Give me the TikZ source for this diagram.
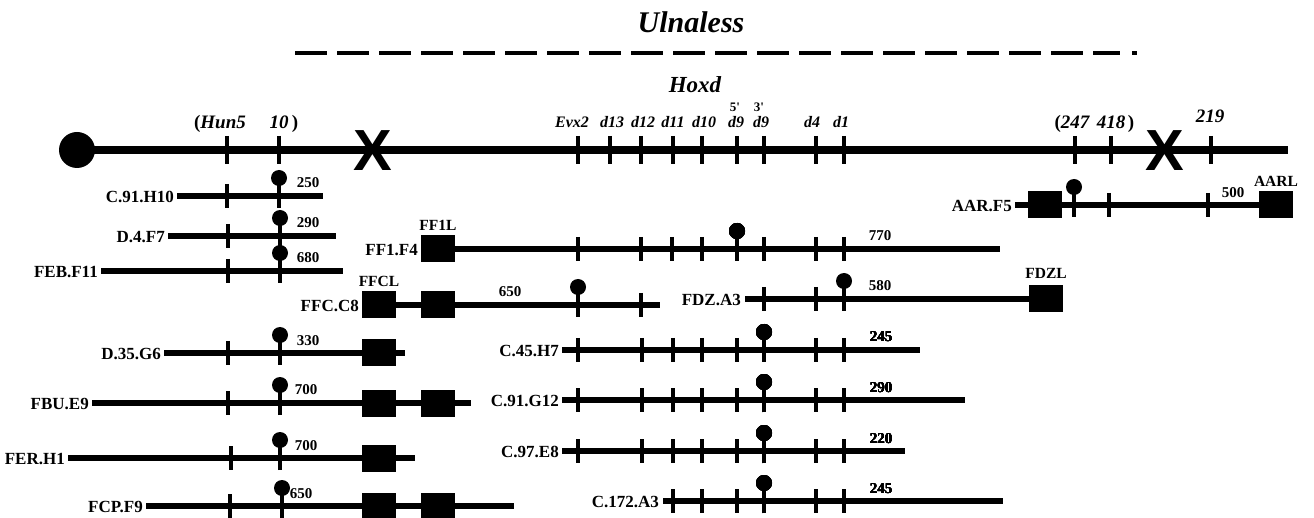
\documentclass[tikz,border=0pt]{standalone}
\usepackage{fontspec}
\setmainfont{Liberation Serif}
\newfontfamily\xfont{Liberation Sans}
\newcommand\clonetick[2]{\draw[tkl] (#1,#2-12) -- (#1,#2+12);}
\newcommand\lolli[2]{\draw[tkl] (#1,#2+12) -- (#1,#2-12); \fill (#1,#2-18) circle (8pt);}
\begin{document}
\begin{tikzpicture}[x=1pt,y=-1pt,
 mainl/.style={line width=7.5pt},
 cl/.style={line width=5.5pt},
 tkl/.style={line width=3.5pt},
 blk/.style={fill=black, minimum width=34pt, minimum height=27pt, inner sep=0pt},
 lbl/.style={font=\bfseries\fontsize{17}{17}\selectfont, anchor=east, inner sep=1pt},
 num/.style={font=\bfseries\fontsize{15}{15}\selectfont, anchor=base, inner sep=0pt},
 gene/.style={font=\bfseries\itshape\fontsize{16}{16}\selectfont, anchor=base, inner sep=0pt},
 top/.style={font=\bfseries\itshape\fontsize{19}{19}\selectfont, anchor=base, inner sep=0pt},
 boxlbl/.style={font=\bfseries\fontsize{15.5}{15.5}\selectfont, anchor=base, inner sep=0pt},
 xmark/.style={font=\xfont\bfseries\fontsize{58}{58}\selectfont, inner sep=0pt}]
\useasboundingbox (0,0) rectangle (1314,518);

% title
\node[font=\bfseries\itshape\fontsize{30}{30}\selectfont, anchor=base] (title) at (691,33) {Ulnaless};
\draw[line width=4pt, dash pattern=on 32pt off 10pt] (295,53) -- (1120,53);
\fill (1132,51) rectangle (1137,55);
\node[font=\bfseries\itshape\fontsize{23}{23}\selectfont, anchor=base] (hoxd) at (695,93) {Hoxd};

% main line
\draw[mainl] (77,150) -- (1288,150);
\fill (77,150) circle (18pt);
\foreach \x in {227,279,578,610,641,673,702,737,764,816,844,1075,1111,1211}
  \draw[tkl] (\x,136) -- (\x,164);
\node[xmark] (x1) at (373,151) {X};
\node[xmark] (x2) at (1165,151) {X};

% main labels
\node[top] (hun5) at (220,129) {{\upshape(}Hun5};
\node[top] (h10) at (279,129) {10};
\node[top] (hp) at (295,129) {\upshape)};
\node[top] (g247) at (1072,129) {{\upshape(}247};
\node[top] (g418) at (1111,129) {418};
\node[top] (gp) at (1131,129) {\upshape)};
\node[top] (g219) at (1210,123) {219};
\node[gene] (evx2) at (572,128) {Evx2};
\node[gene] (d13) at (612,128) {d13};
\node[gene] (d12) at (643,128) {d12};
\node[gene] (d11) at (673,128) {d11};
\node[gene] (d10) at (704,128) {d10};
\node[gene] (d9a) at (736,128) {d9};
\node[gene] (d9b) at (761,128) {d9};
\node[gene] (d4) at (812,128) {d4};
\node[gene] (d1) at (841,128) {d1};
\node[font=\bfseries\fontsize{13}{13}\selectfont, anchor=base, inner sep=0pt] (p5) at (735,112) {5\textquotesingle};
\node[font=\bfseries\fontsize{13}{13}\selectfont, anchor=base, inner sep=0pt] (p3) at (759,112) {3\textquotesingle};

% ---- left column
% C.91.H10
\node[lbl] (c91h10) at (175,197) {C.91.H10};
\draw[cl] (177,196) -- (323,196);
\clonetick{227}{196} \lolli{279}{196}
\node[num] (n250) at (308,188) {250};
% D.4.F7
\node[lbl] (d4f7) at (166,237) {D.4.F7};
\draw[cl] (168,236) -- (336,236);
\clonetick{228}{236} \lolli{280}{236}
\node[num] (n290) at (308,228) {290};
% FEB.F11
\node[lbl] (febf11) at (99,272) {FEB.F11};
\draw[cl] (101,271) -- (343,271);
\clonetick{228}{271} \lolli{280}{271}
\node[num] (n680) at (308,263) {680};
% FFC.C8
\node[lbl] (ffcc8) at (360,306) {FFC.C8};
\draw[cl] (362,305) -- (660,305);
\lolli{578}{305} \clonetick{641}{305}
\node[blk] (ffcb1) at (379,305) {};
\node[blk] (ffcb2) at (438,305) {};
\node[boxlbl] (ffcl) at ([yshift=5pt]ffcb1.north) {FFCL};
\node[num] (n650a) at (510,297) {650};
% D.35.G6
\node[lbl] (d35g6) at (162,354) {D.35.G6};
\draw[cl] (164,353) -- (405,353);
\clonetick{228}{353} \lolli{280}{353}
\node[blk] (d35b) at (379,353) {};
\node[num] (n330) at (308,345) {330};
% FBU.E9
\node[lbl] (fbue9) at (90,404) {FBU.E9};
\draw[cl] (92,403) -- (471,403);
\clonetick{228}{403} \lolli{280}{403}
\node[blk] (fbub1) at (379,403) {};
\node[blk] (fbub2) at (438,403) {};
\node[num] (n700a) at (306,395) {700};
% FER.H1
\node[lbl] (ferh1) at (66,459) {FER.H1};
\draw[cl] (68,458) -- (415,458);
\clonetick{231}{458} \lolli{280}{458}
\node[blk] (ferb) at (379,458) {};
\node[num] (n700b) at (306,450) {700};
% FCP.F9
\node[lbl] (fcpf9) at (144,507) {FCP.F9};
\draw[cl] (146,506) -- (514,506);
\clonetick{230}{506} \lolli{282}{506}
\node[blk] (fcpb1) at (379,506) {};
\node[blk] (fcpb2) at (438,506) {};
\node[num] (n650b) at (301,498) {650};

% ---- middle
% FF1.F4
\node[lbl] (ff1f4) at (419,250) {FF1.F4};
\draw[cl] (438,249) -- (1000,249);
\foreach \x in {578,641,672,702,764,816,844} \clonetick{\x}{249}
\lolli{737}{249}
\node[blk] (ff1b) at (438,249) {};
\node[boxlbl] (ff1l) at ([yshift=5pt]ff1b.north) {FF1L};
\node[num] (n770) at (880,241) {770};
% FDZ.A3
\node[lbl] (fdza3) at (742,300) {FDZ.A3};
\draw[cl] (745,299) -- (1046,299);
\clonetick{764}{299} \clonetick{816}{299} \lolli{844}{299}
\node[blk] (fdzb) at (1046,299) {};
\node[boxlbl] (fdzl) at ([yshift=7pt]fdzb.north) {FDZL};
\node[num] (n580) at (880,291) {580};
% C.45.H7
\node[lbl] (c45h7) at (560,351) {C.45.H7};
\draw[cl] (562,350) -- (920,350);
\foreach \x in {578,642,673,702,737,816,844} \clonetick{\x}{350}
\lolli{764}{350}
\node[num] (n245a) at (881,342) {245};
% C.91.G12
\node[lbl] (c91g12) at (560,401) {C.91.G12};
\draw[cl] (562,400) -- (965,400);
\foreach \x in {578,642,673,702,737,816,844} \clonetick{\x}{400}
\lolli{764}{400}
\node[num] (n290b) at (881,392) {290};
% C.97.E8
\node[lbl] (c97e8) at (560,452) {C.97.E8};
\draw[cl] (562,451) -- (905,451);
\foreach \x in {578,642,673,702,737,816,844} \clonetick{\x}{451}
\lolli{764}{451}
\node[num] (n220) at (881,443) {220};
% C.172.A3
\node[lbl] (c172a3) at (660,502) {C.172.A3};
\draw[cl] (663,501) -- (1003,501);
\foreach \x in {673,702,737,816,844} \clonetick{\x}{501}
\lolli{764}{501}
\node[num] (n245b) at (881,493) {245};

% ---- right
% AAR.F5
\node[lbl] (aarf5) at (1013,206) {AAR.F5};
\draw[cl] (1015,205) -- (1276,205);
\lolli{1074}{205} \clonetick{1109}{205} \clonetick{1208}{205}
\node[blk] (aarb1) at (1045,205) {};
\node[blk] (aarb2) at (1276,205) {};
\node[boxlbl] (aarl) at ([yshift=5pt]aarb2.north) {AARL};
\node[num] (n500) at (1233,198) {500};
\end{tikzpicture}
\end{document}
